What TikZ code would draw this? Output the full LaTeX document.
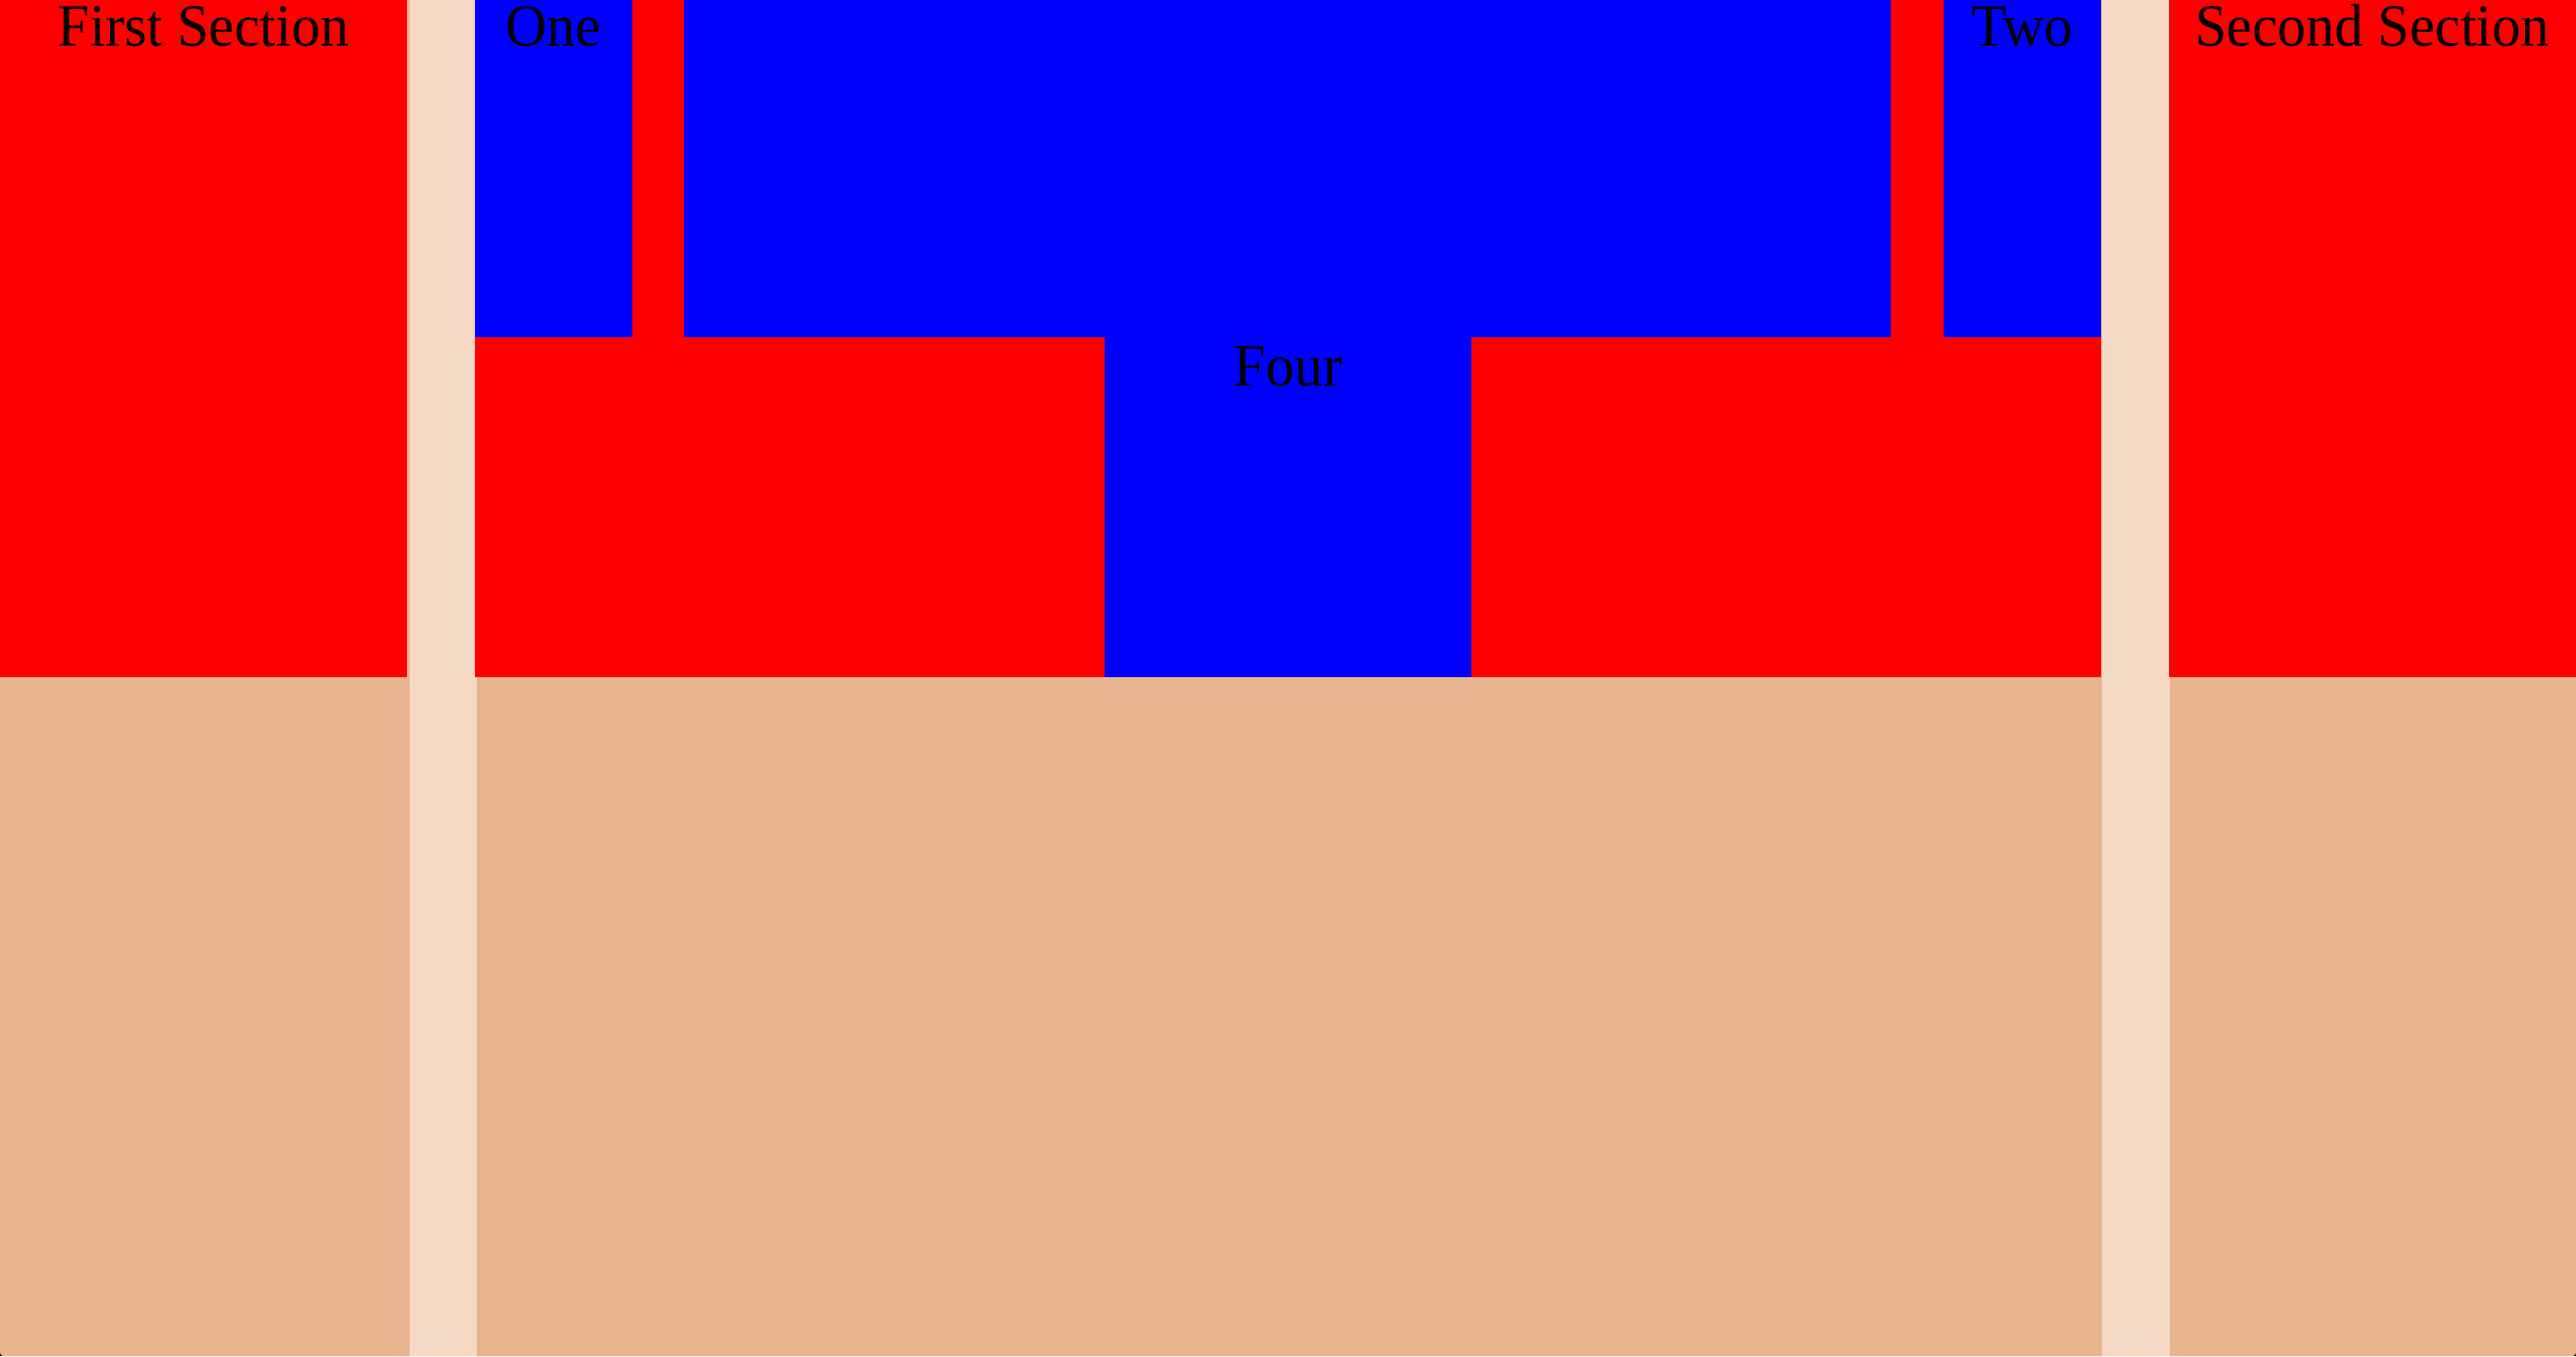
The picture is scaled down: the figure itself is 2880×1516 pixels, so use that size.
\documentclass[tikz,border=0pt]{standalone}
\usepackage{fontspec}
\usepackage{graphicx}
\setmainfont{Liberation Serif}
\definecolor{tanbg}{HTML}{E8B48E}
\definecolor{lightstrip}{HTML}{F4D8C5}
\definecolor{secred}{HTML}{FF0000}
\definecolor{secblue}{HTML}{0000FF}
\newcommand{\lbltxt}[1]{\scalebox{0.955}[1]{#1}}
\begin{document}
\begin{tikzpicture}[x=1pt,y=-1pt,
  lbl/.style={font=\fontsize{67}{80}\selectfont, anchor=base, inner sep=0pt, text=black},
  redfill/.style={fill=secred},
  bluefill/.style={fill=secblue},
  stripfill/.style={fill=lightstrip}]
\useasboundingbox (0,0) rectangle (2880,1516);
% page background with slightly rounded bottom corners
\fill[black] (0,1490) rectangle (2880,1516);
\fill[tanbg] (0,0) rectangle (2880,1500);
\fill[tanbg, rounded corners=4] (0,1470) rectangle (2880,1516);
% light strips
\fill[stripfill] (458,0) rectangle (533,1516);
\fill[stripfill] (2350,0) rectangle (2426,1516);
% first and second sections
\fill[redfill] (0,0) rectangle (455,757);
\fill[redfill] (2425,0) rectangle (2880,757);
% middle section
\fill[redfill] (531,0) rectangle (2349,757);
\fill[bluefill] (531,0) rectangle (707,377);
\fill[bluefill] (765,0) rectangle (2114,377);
\fill[bluefill] (2173,0) rectangle (2349,377);
\fill[bluefill] (1235,376) rectangle (1645,757);
% labels
\node[lbl] (first) at (227.5,51) {\lbltxt{First Section}};
\node[lbl] (one) at (619,51) {\lbltxt{One}};
\node[lbl] (two) at (2261,51) {\lbltxt{Two}};
\node[lbl] (second) at (2652.5,51) {\lbltxt{Second Section}};
\node[lbl] (four) at (1440,431) {\lbltxt{Four}};
\end{tikzpicture}
\end{document}
